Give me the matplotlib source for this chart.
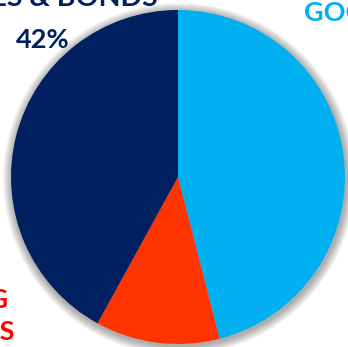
import matplotlib
matplotlib.use('Agg')
import matplotlib.pyplot as plt
from matplotlib.patches import Circle

# data
labels = ['GOODS & SERVICES', 'HOUSING LOANS', 'SHARES & BONDS']
values = [46, 12, 42]
slice_colors = ['#00B0F0', '#FF3300', '#002060']

W, H = 348, 347
cx, cy, r = 178, H - 177, 167

fig = plt.figure(figsize=(W / 100, H / 100), dpi=100)
ax = fig.add_axes([0, 0, 1, 1])

# soft outer shadow
for i in range(10):
    ax.add_patch(Circle((cx + 1, cy - 2), r + 1 + i * 0.9, color='black',
                        alpha=0.035, lw=0, zorder=0))

ax.pie(values, colors=slice_colors, startangle=90, counterclock=False,
       center=(cx, cy), radius=r, frame=True,
       wedgeprops=dict(linewidth=0))
ax.set_xlim(0, W)
ax.set_ylim(0, H)
ax.set_aspect('equal')
ax.axis('off')

fam = ['Lato', 'DejaVu Sans']
font = dict(family=fam, weight='bold', fontsize=19.5)

# labels (partly outside the canvas, as in the original)
ax.text(158, H - 6, 'SHARES & BONDS', ha='right', va='baseline',
        color='#002060', fontsize=20.5, family=fam, weight='bold')
ax.text(43, H - 48, '42%', ha='center', va='baseline', color='#002060', **font)
ax.text(304, H - 21, 'GOODS & SERVICES', ha='left', va='baseline',
        color='#00B0F0', **font)
ax.text(9, H - 308, 'HOUSING', ha='right', va='baseline', color='#FF0000', **font)
ax.text(15, H - 340, 'LOANS', ha='right', va='baseline', color='#FF0000', **font)

fig.savefig('out.png', dpi=100)
